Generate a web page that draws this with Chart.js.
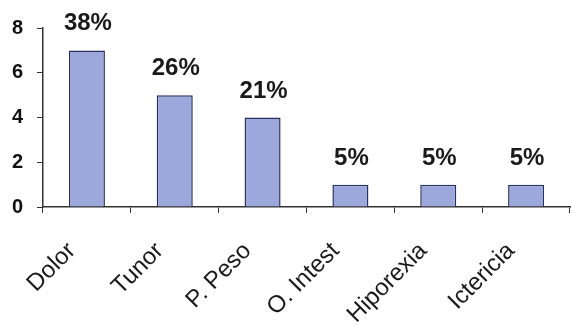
<!DOCTYPE html>
<html>
<head>
<meta charset="utf-8">
<script src="https://cdn.jsdelivr.net/npm/chart.js@4"></script>
<style>
  html, body { margin: 0; padding: 0; background: #fff; }
  #wrap { width: 572px; height: 325px; }
</style>
</head>
<body>
<div id="wrap"><canvas id="symChart"></canvas></div>
<script>
const categories = ['Dolor', 'Tunor', 'P. Peso', 'O. Intest', 'Hiporexia', 'Ictericia'];
const counts = [7, 5, 4, 1, 1, 1];
const percentLabels = ['38%', '26%', '21%', '5%', '5%', '5%'];
const yTicks = [0, 2, 4, 6, 8];

// draws the percentage text above each bar
const percentPlugin = {
  id: 'percentPlugin',
  afterDatasetsDraw(chart) {
    const ctx = chart.ctx;
    const meta = chart.getDatasetMeta(0);
    ctx.save();
    ctx.font = 'bold 24px "Liberation Sans", Arial, sans-serif';
    ctx.fillStyle = '#1a1a1a';
    ctx.textAlign = 'center';
    ctx.textBaseline = 'alphabetic';
    meta.data.forEach((bar, i) => {
      ctx.fillText(percentLabels[i], bar.x + 1, bar.y - 20);
    });
    ctx.restore();
  }
};

function getChartOptions() {
  return {
    responsive: true,
    maintainAspectRatio: false,
    animation: false,
    layout: { padding: { left: 0, top: 28, right: 2, bottom: 0 } },
    plugins: {
      legend: { display: false },
      tooltip: { enabled: false }
    },
    scales: {
      x: {
        afterFit: (axis) => {
          axis.height = 118;
          axis.paddingLeft = 0;
          axis.paddingRight = 0;
        },
        grid: {
          offset: true,
          drawOnChartArea: false,
          drawTicks: true,
          tickLength: 6,
          color: '#333'
        },
        border: { color: '#333', width: 1.5 },
        ticks: {
          autoSkip: false,
          maxRotation: 45,
          minRotation: 45,
          labelOffset: -15,
          padding: 24,
          color: '#1a1a1a',
          font: { family: '"Liberation Sans", Arial, sans-serif', size: 24 }
        }
      },
      y: {
        min: 0,
        max: 8,
        afterBuildTicks: (axis) => { axis.ticks = yTicks.map(v => ({ value: v })); },
        afterFit: (axis) => { axis.width = 43; },
        grid: {
          drawOnChartArea: false,
          drawTicks: true,
          tickLength: 6,
          color: '#333'
        },
        border: { color: '#333', width: 1.5 },
        ticks: {
          padding: 14,
          color: '#111',
          font: { family: '"Liberation Sans", Arial, sans-serif', size: 20, weight: 'bold' }
        }
      }
    }
  };
}

function createChart() {
  const ctx = document.getElementById('symChart').getContext('2d');
  new Chart(ctx, {
    type: 'bar',
    data: {
      labels: categories,
      datasets: [{
        data: counts,
        backgroundColor: '#9ca7dc',
        borderColor: '#27305e',
        borderWidth: 1.5,
        borderSkipped: 'bottom',
        categoryPercentage: 1,
        barPercentage: 0.41
      }]
    },
    options: getChartOptions(),
    plugins: [percentPlugin]
  });
}

document.addEventListener('DOMContentLoaded', createChart);
</script>
</body>
</html>
